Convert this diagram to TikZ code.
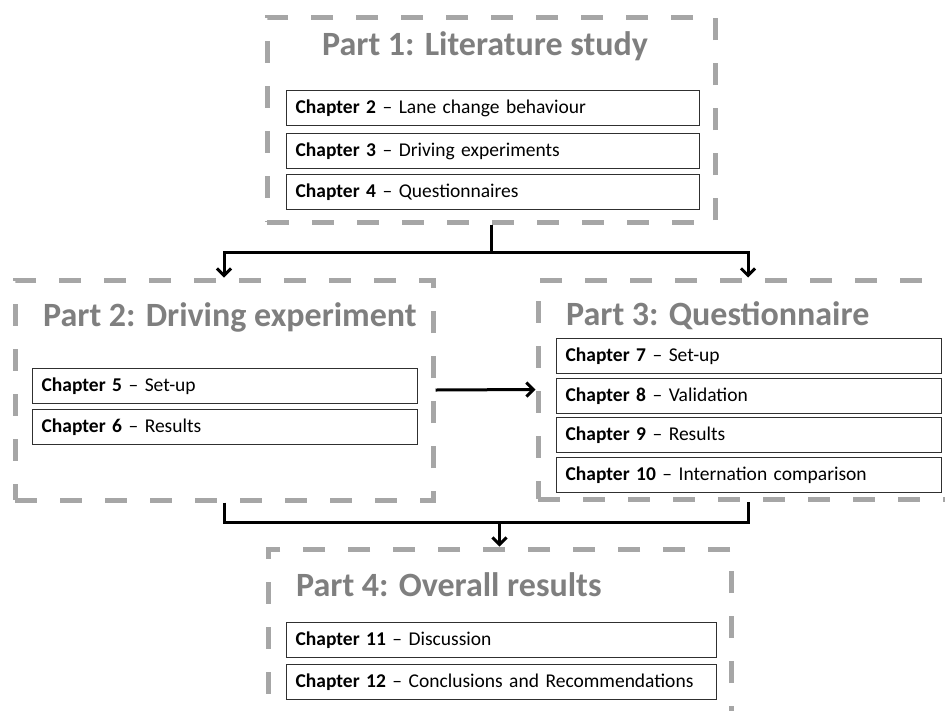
\documentclass[tikz,border=0pt]{standalone}
\usepackage{fontspec}
\setmainfont{Carlito}
\usetikzlibrary{arrows.meta,positioning}

\definecolor{dashgray}{HTML}{A6A6A6}
\definecolor{titlegray}{HTML}{7F7F7F}
\definecolor{chapline}{HTML}{303030}

\tikzset{
  partbox/.style={draw=dashgray, line width=5pt, dash pattern=on 22pt off 23pt},
  parttitle/.style={anchor=base west, inner sep=0pt, text=titlegray, font=\fontsize{34}{38}\selectfont\bfseries},
  chapbox/.style={draw=chapline, fill=white, line width=1.2pt, anchor=north west, minimum height=35pt,
    inner xsep=9pt, inner ysep=0pt, align=left, font=\fontsize{19.5}{22}\selectfont},
  conn/.style={line width=3pt},
  connarrow/.style={conn, -{Straight Barb[length=7pt,width=14pt,line width=3pt]}}
}

\begin{document}
\begin{tikzpicture}[x=1pt,y=-1pt]
\useasboundingbox (0,0) rectangle (945,710);
\clip (0,0) rectangle (945,710);
\fill[white] (0,0) rectangle (945,710);

% parts
\node[partbox, minimum width=448pt, minimum height=205pt] (p1) at (491,119.5) {};
\node[partbox, minimum width=418pt, minimum height=220pt] (p2) at (224,390) {};
\node[partbox, minimum width=420pt, minimum height=219pt] (p3) at (748,389.5) {};
\node[partbox, minimum width=463pt, minimum height=211pt] (p4) at (499.5,654.5) {};

\node[parttitle] (t1) at (322,55) {Part 1: Literature study};
\node[parttitle] (t2) at (43,326) {Part 2: Driving experiment};
\node[parttitle] (t3) at (566,325) {Part 3: Questionnaire};
\node[parttitle] (t4) at (296,596) {Part 4: Overall results};

% chapters
\node[chapbox, text width=395pt] (ch2) at (286,90) {\textbf{Chapter 2} -- Lane change behaviour};
\node[chapbox, text width=395pt] (ch3) at (286,133) {\textbf{Chapter 3} -- Driving experiments};
\node[chapbox, text width=395pt] (ch4) at (286,174) {\textbf{Chapter 4} -- Questionnaires};

\node[chapbox, text width=367pt] (ch5) at (32,368) {\textbf{Chapter 5} -- Set-up};
\node[chapbox, text width=367pt] (ch6) at (32,409) {\textbf{Chapter 6} -- Results};

\node[chapbox, text width=367pt] (ch7) at (556,338) {\textbf{Chapter 7} -- Set-up};
\node[chapbox, text width=367pt] (ch8) at (556,378) {\textbf{Chapter 8} -- Validation};
\node[chapbox, text width=367pt] (ch9) at (556,417) {\textbf{Chapter 9} -- Results};
\node[chapbox, text width=367pt] (ch10) at (556,457) {\textbf{Chapter 10} -- Internation comparison};

\node[chapbox, text width=412pt] (ch11) at (286,622) {\textbf{Chapter 11} -- Discussion};
\node[chapbox, text width=412pt] (ch12) at (286,664) {\textbf{Chapter 12} -- Conclusions and Recommendations};

% connectors
\coordinate[below=28pt of p1.south] (j1);
\coordinate[above=24pt of p4.north] (j2);
\draw[conn] (p1.south) -- (j1);
\draw[connarrow] (j1) -| (p2.north);
\draw[connarrow] (j1) -| (p3.north);
\draw[connarrow] (p2.east) -- (p3.west);
\draw[conn] (p2.south) |- (j2) -| (p3.south);
\draw[connarrow] (j2) -- (p4.north);
\end{tikzpicture}
\end{document}
